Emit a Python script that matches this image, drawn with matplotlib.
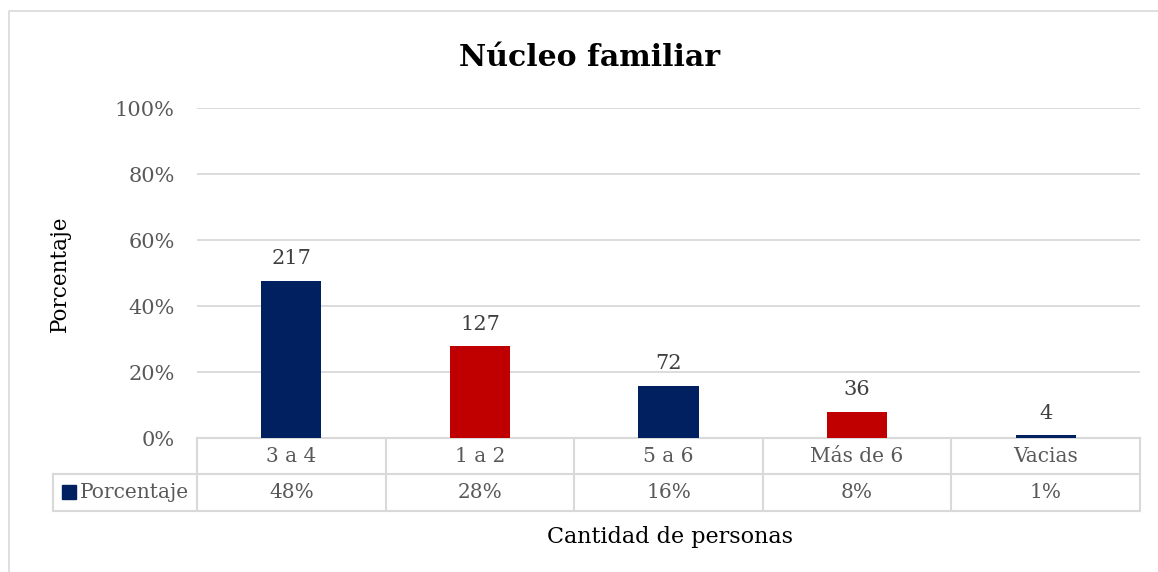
import matplotlib
matplotlib.use("Agg")
import matplotlib.pyplot as plt
from matplotlib.patches import Rectangle

categorias = ["3 a 4", "1 a 2", "5 a 6", "Más de 6", "Vacias"]
conteos = [217, 127, 72, 36, 4]
etiquetas_pct = ["48%", "28%", "16%", "8%", "1%"]
colores = ["#002060", "#C00000", "#002060", "#C00000", "#002060"]
yticks = [0, 0.2, 0.4, 0.6, 0.8, 1.0]

total = sum(conteos)
porcentajes = [c / total for c in conteos]

plt.rcParams["font.family"] = ["DejaVu Serif"]
gris = "#595959"
linea = "#D9D9D9"

W, H = 1158, 572
fig = plt.figure(figsize=(W / 100, H / 100), dpi=100)

# borde exterior (solo arriba e izquierda visibles)
fig.add_artist(plt.Line2D([9 / W, 9 / W, 1], [0, 1 - 11 / H, 1 - 11 / H],
                          transform=fig.transFigure, color=linea, lw=1.2))

x0, x1, ytop, ybot = 197, 1140, 108, 438
ax = fig.add_axes([x0 / W, 1 - ybot / H, (x1 - x0) / W, (ybot - ytop) / H])

xs = range(len(categorias))
ax.bar(xs, porcentajes, width=0.32, color=colores, zorder=3)
for x, p, c in zip(xs, porcentajes, conteos):
    ax.annotate(str(c), (x, p), xytext=(0, 9), textcoords="offset points",
                ha="center", va="bottom", fontsize=15, color="#404040")

ax.set_xlim(-0.5, len(categorias) - 0.5)
ax.set_ylim(0, 1)
ax.set_yticks(yticks)
ax.set_yticklabels([f"{int(round(t * 100))}%" for t in yticks], fontsize=15, color=gris)
ax.set_xticks([])
ax.tick_params(axis="y", length=0, pad=16)
ax.grid(axis="y", color=linea, lw=1.3, zorder=0)
for s in ax.spines.values():
    s.set_visible(False)

# tabla de datos
ph = ybot - ytop
r1 = -(474 - ybot) / ph
r2 = -(511 - ybot) / ph
xl = -(x0 - 53) / (x1 - x0)
kw = dict(color=linea, lw=1.5, transform=ax.transAxes, clip_on=False)
ax.plot([0, 1], [0, 0], **kw)
ax.plot([xl, 1], [r1, r1], **kw)
ax.plot([xl, 1], [r2, r2], **kw)
ax.plot([xl, xl], [r1, r2], **kw)
n = len(categorias)
for i in range(n + 1):
    ax.plot([i / n, i / n], [0, r2], **kw)
for i in range(n):
    xc = (i + 0.5) / n
    ax.text(xc, r1 / 2, categorias[i], transform=ax.transAxes, ha="center", va="center",
            fontsize=14.5, color=gris)
    ax.text(xc, (r1 + r2) / 2, etiquetas_pct[i], transform=ax.transAxes, ha="center",
            va="center", fontsize=14.5, color=gris)
ax.add_patch(Rectangle((62 / W, 1 - 499 / H), 14 / W, 14 / H, transform=fig.transFigure,
                       color="#002060", clip_on=False))
fig.text(80 / W, 1 - 492 / H, "Porcentaje", ha="left", va="center", fontsize=14.5, color=gris)

fig.text(590 / W, 1 - 57 / H, "Núcleo familiar", ha="center", va="center",
         fontsize=21.5, fontweight="bold", color="black")
fig.text(60 / W, 1 - 274 / H, "Porcentaje", rotation=90, ha="center", va="center",
         fontsize=15.5, color="black")
fig.text(670 / W, 1 - 537 / H, "Cantidad de personas", ha="center", va="center",
         fontsize=16, color="black")

fig.savefig("out.png", dpi=100)
